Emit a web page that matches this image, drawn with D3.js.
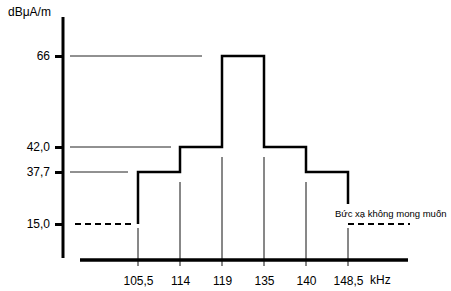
<!DOCTYPE html>
<html><head><meta charset="utf-8">
<script src="https://cdn.jsdelivr.net/npm/d3@7"></script>
<style>body{margin:0;background:#fff}svg{display:block;font-family:"Liberation Sans",Arial,sans-serif}</style>
</head><body>
<svg id="c" width="451" height="291"></svg>
<script>
const freqLabels = ["105,5","114","119","135","140","148,5"];
const levelValues = [15, 37.7, 42, 66];
const levelLabels = ["15,0","37,7","42,0","66"];
const stepLevels = [37.7, 42, 66, 42, 37.7];   // level between consecutive frequencies
const unwantedLevel = 15;
const yUnit = "dBμA/m", xUnit = "kHz";
const unwantedLabel = "Bức xạ không mong muốn";

const svg = d3.select("#c");
const x = d3.scalePoint().domain(freqLabels).range([138, 348]);
const y = d3.scaleLinear().domain([15, 37.7, 42, 66]).range([224, 172, 147, 56]);
const axisX = 63, axisY = 260;

// thin reference lines
svg.append("line").attr("x1",70).attr("x2",x("119")-20).attr("y1",y(66)).attr("y2",y(66)).attr("stroke","#222").attr("stroke-width",1);
svg.append("line").attr("x1",70).attr("x2",x("114")-9).attr("y1",y(42)).attr("y2",y(42)).attr("stroke","#222").attr("stroke-width",1);
svg.append("line").attr("x1",70).attr("x2",x("105,5")-10).attr("y1",y(37.7)).attr("y2",y(37.7)).attr("stroke","#222").attr("stroke-width",1);

// vertical thin frequency lines
freqLabels.forEach((f,i)=>{
  const lv = [i>0?stepLevels[i-1]:unwantedLevel, i<stepLevels.length?stepLevels[i]:unwantedLevel];
  const low = Math.min(...lv);
  svg.append("line").attr("x1",x(f)).attr("x2",x(f)).attr("y1",y(low)+(low===unwantedLevel?4:10)).attr("y2",axisY+6)
    .attr("stroke","#111").attr("stroke-width",1);
});

// dashed unwanted emission lines
svg.append("line").attr("x1",75).attr("x2",x("105,5")-3).attr("y1",y(unwantedLevel)).attr("y2",y(unwantedLevel))
  .attr("stroke","#000").attr("stroke-width",2).attr("stroke-dasharray","6,4");
svg.append("line").attr("x1",x("148,5")).attr("x2",x("148,5")+62).attr("y1",y(unwantedLevel)).attr("y2",y(unwantedLevel))
  .attr("stroke","#000").attr("stroke-width",2).attr("stroke-dasharray","6,4");

// step mask line
const pts = [[x(freqLabels[0]), y(unwantedLevel)]];
stepLevels.forEach((v,i)=>{
  pts.push([x(freqLabels[i]), y(v)]);
  pts.push([x(freqLabels[i+1]), y(v)]);
});
pts.push([x(freqLabels[freqLabels.length-1]), y(unwantedLevel)-20]);
svg.append("path").attr("d", d3.line()(pts)).attr("fill","none").attr("stroke","#000").attr("stroke-width",2.5);

// y axis
const ya = svg.append("g").attr("transform",`translate(${axisX},0)`)
  .call(d3.axisLeft(y).tickValues(levelValues).tickFormat((d,i)=>levelLabels[i]).tickSize(8).tickPadding(5));
ya.select(".domain").remove();
ya.selectAll(".tick line").attr("stroke","#000").attr("stroke-width",3);
ya.selectAll("text").attr("font-size",12).attr("fill","#000").attr("font-family","Liberation Sans, Arial");
svg.append("line").attr("x1",axisX).attr("x2",axisX).attr("y1",17).attr("y2",axisY-2).attr("stroke","#000").attr("stroke-width",3);
svg.append("text").attr("x",8).attr("y",16).attr("font-size",12).text(yUnit);

// x axis
svg.append("line").attr("x1",80).attr("x2",408).attr("y1",axisY).attr("y2",axisY).attr("stroke","#000").attr("stroke-width",3.5);
const xa = svg.append("g").attr("transform",`translate(0,${axisY})`)
  .call(d3.axisBottom(x).tickSize(0).tickPadding(16));
xa.select(".domain").remove();
xa.selectAll("text").attr("font-size",12).attr("fill","#000").attr("font-family","Liberation Sans, Arial");
svg.append("text").attr("x",x("148,5")+22).attr("y",axisY+24).attr("font-size",12).text(xUnit);

svg.append("text").attr("x",x("148,5")-13).attr("y",y(unwantedLevel)-7).attr("font-size",9.5).text(unwantedLabel);
</script>
</body></html>
